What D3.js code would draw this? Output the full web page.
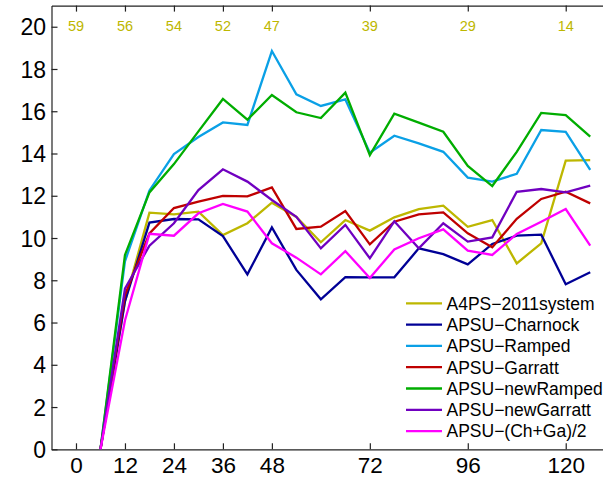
<!DOCTYPE html>
<html>
<head>
<meta charset="utf-8">
<script src="https://cdn.jsdelivr.net/npm/d3@7"></script>
<style>
  html, body { margin: 0; padding: 0; background: #fff; }
  svg { display: block; font-family: "Liberation Sans", Arial, Helvetica, sans-serif; }
</style>
</head>
<body>
<svg id="chart" width="603" height="477"></svg>
<script>
// Forecast lead time (hours)
const hours = [6, 12, 18, 24, 30, 36, 42, 48, 54, 60, 66, 72, 78, 84, 90, 96, 102, 108, 114, 120, 126];

const a4ps2011     = [0, 7.0, 11.2, 11.12, 11.25, 10.14, 10.7, 11.67, 11.0, 9.8, 10.85, 10.35, 10.98, 11.37, 11.53, 10.53, 10.85, 8.8, 9.75, 13.66, 13.69];
const charnock     = [0, 7.0, 10.73, 10.9, 10.88, 10.09, 8.28, 10.5, 8.49, 7.1, 8.15, 8.14, 8.14, 9.51, 9.24, 8.75, 9.72, 10.11, 10.16, 7.81, 8.38];
const ramped       = [0, 8.9, 12.25, 13.97, 14.78, 15.47, 15.35, 18.85, 16.8, 16.25, 16.56, 14.04, 14.84, 14.48, 14.08, 12.86, 12.67, 13.04, 15.11, 15.02, 13.22];
const garratt      = [0, 7.3, 10.22, 11.42, 11.72, 11.99, 11.97, 12.4, 10.43, 10.54, 11.28, 9.7, 10.77, 11.12, 11.21, 10.22, 9.56, 10.91, 11.85, 12.19, 11.64];
const newRamped    = [0, 9.2, 12.16, 13.5, 15.05, 16.58, 15.6, 16.77, 15.95, 15.68, 16.88, 13.92, 15.88, 15.46, 15.03, 13.41, 12.46, 14.08, 15.92, 15.82, 14.8];
const newGarratt   = [0, 7.6, 9.64, 10.7, 12.27, 13.25, 12.67, 11.8, 11.0, 9.51, 10.62, 9.04, 10.79, 9.51, 10.7, 9.83, 10.03, 12.19, 12.32, 12.16, 12.48];
const chGaMean     = [0, 6.1, 10.2, 10.11, 11.17, 11.61, 11.25, 9.75, 9.07, 8.28, 9.38, 8.11, 9.46, 9.99, 10.41, 9.4, 9.2, 10.19, 10.77, 11.37, 9.64];

const seriesNames  = ["A4PS\u22122011system", "APSU\u2212Charnock", "APSU\u2212Ramped", "APSU\u2212Garratt",
                      "APSU\u2212newRamped", "APSU\u2212newGarratt", "APSU\u2212(Ch+Ga)/2"];
const seriesValues = [a4ps2011, charnock, ramped, garratt, newRamped, newGarratt, chGaMean];
const seriesColors = ["#bdb700", "#000096", "#0aa0e6", "#bf0000", "#00ad00", "#7000c0", "#ff00ff"];

// Tick labels and sample counts along the top edge
const xTickValues = [0, 12, 24, 36, 48, 72, 96, 120];
const yTickValues = [0, 2, 4, 6, 8, 10, 12, 14, 16, 18, 20];
const sampleCounts = [59, 56, 54, 52, 47, 39, 29, 14];

const svg = d3.select("#chart");

const x = d3.scaleLinear().domain([-6, 132]).range([51.5, 614.7]);
const y = d3.scaleLinear().domain([0, 21]).range([449.3, 5.6]);

// Axes with inward ticks
const xAxis = svg.append("g")
  .attr("transform", `translate(0,${y(0)})`)
  .call(d3.axisBottom(x).tickValues(xTickValues).tickFormat(d3.format("d"))
        .tickSize(-6).tickSizeOuter(0).tickPadding(8));

const yAxis = svg.append("g")
  .attr("transform", `translate(${x(-6)},0)`)
  .call(d3.axisLeft(y).tickValues(yTickValues).tickFormat(d3.format("d"))
        .tickSize(-6).tickSizeOuter(0).tickPadding(5.5));

const topAxis = svg.append("g")
  .attr("transform", `translate(0,${y(21)})`)
  .call(d3.axisTop(x).tickValues(xTickValues).tickFormat("")
        .tickSize(-6).tickSizeOuter(0));

[xAxis, yAxis, topAxis].forEach(g => {
  g.selectAll("text").attr("font-size", 23).attr("fill", "#000")
    .attr("font-family", "Liberation Sans, Arial, sans-serif");
  g.selectAll("line").attr("stroke", "#222").attr("stroke-width", 1.2);
  g.select(".domain").attr("stroke", "#222").attr("stroke-width", 1.2);
});
yAxis.selectAll("text").attr("dy", "0.35em");
xAxis.selectAll("text").attr("font-size", 22.5);

// Sample counts along the top
svg.append("g").selectAll("text")
  .data(xTickValues)
  .join("text")
  .attr("x", d => x(d))
  .attr("y", 30.5)
  .attr("text-anchor", "middle")
  .attr("font-size", 14.5)
  .attr("fill", "#bdb700")
  .text((d, i) => sampleCounts[i]);

// Error curves
const line = d3.line()
  .x((d, i) => x(hours[i]))
  .y(d => y(d));

svg.append("g").selectAll("path")
  .data(seriesValues)
  .join("path")
  .attr("d", d => line(d))
  .attr("fill", "none")
  .attr("stroke", (d, i) => seriesColors[i])
  .attr("stroke-width", 2.3)
  .attr("stroke-linejoin", "miter")
  .attr("stroke-linecap", "butt");

// Legend
const legend = svg.append("g");
const legendRows = legend.selectAll("g")
  .data(seriesNames)
  .join("g")
  .attr("transform", (d, i) => `translate(406,${303.3 + i * 21.3})`);

legendRows.append("line")
  .attr("x1", 0).attr("x2", 36)
  .attr("y1", 0).attr("y2", 0)
  .attr("stroke", (d, i) => seriesColors[i])
  .attr("stroke-width", 2.3);

legendRows.append("text")
  .attr("x", 40.5)
  .attr("dy", "0.36em")
  .attr("font-size", 17.5)
  .attr("fill", "#000")
  .text(d => d);
</script>
</body>
</html>
